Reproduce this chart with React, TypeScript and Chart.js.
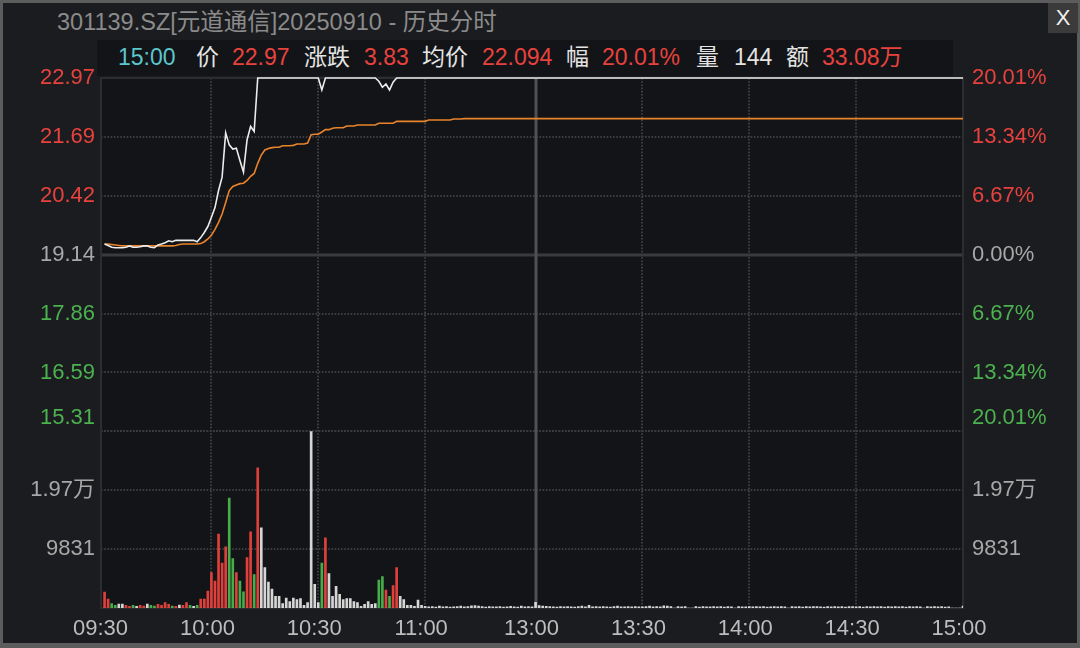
import React, { useEffect, useRef } from 'react';
import { Chart, registerables } from 'chart.js';

Chart.register(...registerables);

// ---------------- data ----------------
const TITLE = '301139.SZ[元道通信]20250910 - 历史分时';
const INFO_TEXTS = ['15:00', '价', '22.97', '涨跌', '3.83', '均价', '22.094', '幅', '20.01%', '量', '144', '额', '33.08万'];
const INFO_KINDS = ['time', 'label', 'up', 'label', 'up', 'label', 'up', 'label', 'up', 'label', 'label', 'label', 'up'];

const PREV_CLOSE = 19.14;
const PRICE_MIN = 15.31;
const PRICE_MAX = 22.97;
const PRICE_TICKS = [15.31, 16.5867, 17.8633, 19.14, 20.4167, 21.6933, 22.97];
const PRICE_TICK_LABELS = ['15.31', '16.59', '17.86', '19.14', '20.42', '21.69', '22.97'];
const PCT_TICK_LABELS = ['20.01%', '13.34%', '6.67%', '0.00%', '6.67%', '13.34%', '20.01%'];

const VOL_MAX = 29493;
const VOL_TICKS = [0, 9831, 19662, 29493];
const VOL_TICK_LABELS = ['', '9831', '1.97万', ''];

// minute slots: 0..120 = 09:30..11:30, 121..241 = 13:00..15:00
const TIME_TICK_INDEX = [0, 30, 60, 90, 121, 151, 181, 211, 241];
const TIME_TICK_LABELS = ['09:30', '10:00', '10:30', '11:00', '13:00', '13:30', '14:00', '14:30', '15:00'];
const BREAK_INDEX = 121;

const PRICE = [
  19.37, 19.34, 19.30, 19.29, 19.29, 19.29, 19.30, 19.33, 19.30, 19.30,
  19.31, 19.33, 19.33, 19.30, 19.29, 19.35, 19.37, 19.40, 19.44, 19.42,
  19.45, 19.45, 19.45, 19.45, 19.45, 19.45, 19.42, 19.51, 19.62, 19.75,
  19.95, 20.16, 20.53, 20.82, 21.78, 21.52, 21.43, 21.45, 21.18, 20.93,
  21.63, 21.92, 21.81, 22.97, 22.97, 22.97, 22.97, 22.97, 22.97, 22.97,
  22.97, 22.97, 22.97, 22.97, 22.97, 22.97, 22.97, 22.97, 22.97, 22.97,
  22.97, 22.71, 22.97, 22.97, 22.97, 22.97, 22.97, 22.97, 22.97, 22.97,
  22.97, 22.97, 22.97, 22.97, 22.97, 22.97, 22.97, 22.90, 22.77, 22.84,
  22.71, 22.88, 22.97, 22.97, 22.97, 22.97, 22.97, 22.97, 22.97, 22.97,
  22.97, 22.97, 22.97, 22.97, 22.97, 22.97, 22.97, 22.97, 22.97, 22.97,
  22.97, 22.97, 22.97, 22.97, 22.97, 22.97, 22.97, 22.97, 22.97, 22.97,
  22.97, 22.97, 22.97, 22.97, 22.97, 22.97, 22.97, 22.97, 22.97, 22.97,
  22.97, 22.97, 22.97, 22.97, 22.97, 22.97, 22.97, 22.97, 22.97, 22.97,
  22.97, 22.97, 22.97, 22.97, 22.97, 22.97, 22.97, 22.97, 22.97, 22.97,
  22.97, 22.97, 22.97, 22.97, 22.97, 22.97, 22.97, 22.97, 22.97, 22.97,
  22.97, 22.97, 22.97, 22.97, 22.97, 22.97, 22.97, 22.97, 22.97, 22.97,
  22.97, 22.97, 22.97, 22.97, 22.97, 22.97, 22.97, 22.97, 22.97, 22.97,
  22.97, 22.97, 22.97, 22.97, 22.97, 22.97, 22.97, 22.97, 22.97, 22.97,
  22.97, 22.97, 22.97, 22.97, 22.97, 22.97, 22.97, 22.97, 22.97, 22.97,
  22.97, 22.97, 22.97, 22.97, 22.97, 22.97, 22.97, 22.97, 22.97, 22.97,
  22.97, 22.97, 22.97, 22.97, 22.97, 22.97, 22.97, 22.97, 22.97, 22.97,
  22.97, 22.97, 22.97, 22.97, 22.97, 22.97, 22.97, 22.97, 22.97, 22.97,
  22.97, 22.97, 22.97, 22.97, 22.97, 22.97, 22.97, 22.97, 22.97, 22.97,
  22.97, 22.97, 22.97, 22.97, 22.97, 22.97, 22.97, 22.97, 22.97, 22.97,
  22.97, 22.97,
];

const AVG_PRICE = [
  19.37, 19.37, 19.36, 19.35, 19.34, 19.33, 19.33, 19.33, 19.33, 19.33,
  19.33, 19.33, 19.33, 19.33, 19.33, 19.33, 19.33, 19.33, 19.33, 19.33,
  19.34, 19.36, 19.37, 19.37, 19.37, 19.37, 19.37, 19.38, 19.42, 19.48,
  19.56, 19.69, 19.84, 20.02, 20.27, 20.53, 20.62, 20.65, 20.68, 20.69,
  20.75, 20.84, 20.90, 21.12, 21.30, 21.41, 21.44, 21.46, 21.47, 21.47,
  21.50, 21.50, 21.50, 21.51, 21.54, 21.54, 21.54, 21.56, 21.74, 21.75,
  21.75, 21.80, 21.85, 21.85, 21.88, 21.89, 21.89, 21.89, 21.93, 21.93,
  21.93, 21.95, 21.95, 21.95, 21.95, 21.95, 21.95, 21.99, 21.99, 21.99,
  21.99, 21.99, 22.03, 22.03, 22.03, 22.03, 22.03, 22.03, 22.03, 22.03,
  22.03, 22.06, 22.06, 22.06, 22.06, 22.06, 22.06, 22.06, 22.08, 22.08,
  22.08, 22.09, 22.09, 22.09, 22.09, 22.09, 22.09, 22.09, 22.09, 22.09,
  22.09, 22.09, 22.09, 22.09, 22.09, 22.09, 22.09, 22.09, 22.09, 22.09,
  22.09, 22.09, 22.09, 22.09, 22.09, 22.09, 22.09, 22.09, 22.09, 22.09,
  22.09, 22.09, 22.09, 22.09, 22.09, 22.09, 22.09, 22.09, 22.09, 22.09,
  22.09, 22.09, 22.09, 22.09, 22.09, 22.09, 22.09, 22.09, 22.09, 22.09,
  22.09, 22.09, 22.09, 22.09, 22.09, 22.09, 22.09, 22.09, 22.09, 22.09,
  22.09, 22.09, 22.09, 22.09, 22.09, 22.09, 22.09, 22.09, 22.09, 22.09,
  22.09, 22.09, 22.09, 22.09, 22.09, 22.09, 22.09, 22.09, 22.09, 22.09,
  22.09, 22.09, 22.09, 22.09, 22.09, 22.09, 22.09, 22.09, 22.09, 22.09,
  22.09, 22.09, 22.09, 22.09, 22.09, 22.09, 22.09, 22.09, 22.09, 22.09,
  22.09, 22.09, 22.09, 22.09, 22.09, 22.09, 22.09, 22.09, 22.09, 22.09,
  22.09, 22.09, 22.09, 22.09, 22.09, 22.09, 22.09, 22.09, 22.09, 22.09,
  22.09, 22.09, 22.09, 22.09, 22.09, 22.09, 22.09, 22.09, 22.09, 22.09,
  22.09, 22.09, 22.09, 22.09, 22.09, 22.09, 22.09, 22.09, 22.09, 22.09,
  22.09, 22.09,
];

const VOLUME = [
  2670, 1500, 720, 450, 670, 670, 450, 280, 450, 280,
  450, 330, 670, 450, 330, 610, 450, 890, 610, 330,
  280, 500, 450, 890, 450, 280, 450, 1500, 1500, 2840,
  5900, 4500, 12350, 7500, 10230, 18350, 8230, 5900, 4500, 2720,
  8400, 12730, 5560, 23400, 13400, 6730, 4340, 3170, 1950, 1950,
  720, 1670, 1060, 1670, 1390, 1560, 450, 890, 29493, 3950,
  890, 7500, 11730, 5730, 1950, 3610, 2280, 1390, 1560, 1560,
  1060, 890, 280, 610, 1060, 610, 720, 4670, 5230, 3000,
  1950, 3730, 6730, 1950, 1390, 450, 450, 280, 1330, 450,
  280, 190, 240, 170, 300, 180, 250, 160, 190, 240,
  310, 180, 230, 360, 420, 300, 240, 170, 250, 180,
  190, 240, 170, 180, 260, 180, 170, 300, 180, 240,
  180, 960, 420, 300, 290, 240, 180, 170, 240, 190,
  250, 180, 170, 240, 300, 180, 450, 190, 240, 180,
  240, 180, 170, 250, 300, 180, 190, 240, 180, 250,
  180, 180, 240, 300, 180, 240, 190, 360, 300, 240,
  0, 240, 180, 240, 0, 0, 240, 170, 250, 180,
  190, 240, 180, 250, 170, 240, 180, 0, 240, 180,
  180, 240, 190, 240, 180, 250, 170, 190, 240, 180,
  250, 180, 0, 240, 180, 250, 170, 240, 190, 240,
  240, 180, 170, 240, 190, 250, 180, 240, 170, 250,
  240, 180, 250, 170, 240, 190, 240, 180, 250, 170,
  240, 190, 250, 180, 240, 170, 250, 190, 240, 180,
  0, 240, 180, 250, 190, 240, 170, 180, 0, 0,
  0, 300,
];

// bar colour per minute: r = up, g = down, w = unchanged (rest of the day is flat at the limit)
const VOLUME_DIR =
  'rrggwwrrgw' + 'rrwggrrrrg' + 'rwrrgwgrrr' + 'rrrrrggrgg' + 'rrgrwwwwww' +
  'wwwwwwwwww' + 'wgrwwwwwww' + 'wwwwwwwggr' + 'grrwwwwwww' + 'w';

// ---------------- style ----------------
const FONT = '"Liberation Sans", Arial, "Noto Sans CJK SC", sans-serif';
const RED = '#e8423e';
const GREEN = '#4cb14f';
const GRAY = '#a8a8a8';
const WHITE = '#e4e4e4';
const CYAN = '#5cc6cd';
const BAR_COLORS = { r: '#e0403b', g: '#46ad4a', w: '#d6d6d6' };
const INFO_COLORS = { time: CYAN, label: WHITE, up: RED };
const INFO_LEFT = [118, 196, 232, 304, 364, 422, 482, 566, 602, 696, 734, 786, 822];

const priceColor = (i) => (i < 3 ? GREEN : i === 3 ? GRAY : RED);

const gridPlugin = {
  id: 'fenshiGrid',
  beforeDatasetsDraw(chart) {
    const { ctx, chartArea: a, scales } = chart;
    const xs = scales.x;
    const yp = scales.yPrice;
    const yv = scales.yVol;
    const hLine = (y) => {
      ctx.beginPath();
      ctx.moveTo(a.left, y);
      ctx.lineTo(a.right, y);
      ctx.stroke();
    };
    const vLine = (x) => {
      ctx.beginPath();
      ctx.moveTo(x, a.top);
      ctx.lineTo(x, a.bottom);
      ctx.stroke();
    };
    ctx.save();
    ctx.strokeStyle = '#3c3d41';
    ctx.lineWidth = 2;
    ctx.setLineDash([1.6, 1.6]);
    PRICE_TICKS.forEach((v) => {
      if (v !== PREV_CLOSE && v !== PRICE_MAX) hLine(Math.round(yp.getPixelForValue(v)));
    });
    VOL_TICKS.forEach((v) => {
      if (v > 0) hLine(Math.round(yv.getPixelForValue(v)));
    });
    TIME_TICK_INDEX.forEach((i) => {
      if (i > 0 && i < 241 && i !== BREAK_INDEX) vLine(Math.round(xs.getPixelForValue(i)));
    });
    ctx.setLineDash([]);
    ctx.strokeStyle = '#3a3b3f';
    ctx.lineWidth = 3;
    hLine(Math.round(yp.getPixelForValue(PREV_CLOSE)));
    ctx.strokeStyle = '#505155';
    vLine(Math.round(xs.getPixelForValue(BREAK_INDEX)));
    ctx.strokeStyle = '#2c2d31';
    ctx.lineWidth = 2;
    ctx.strokeRect(a.left, a.top, a.right - a.left, a.bottom - a.top);
    ctx.restore();
  },
};

const tickFont = { family: FONT, size: 22, lineHeight: 1.2 };

export default function App() {
  const canvasRef = useRef(null);

  useEffect(() => {
    const pricePts = PRICE.map((v, i) => ({ x: i, y: v }));
    const avgPts = AVG_PRICE.map((v, i) => ({ x: i, y: v }));
    const volPts = VOLUME.map((v, i) => ({ x: i, y: v }));
    const volColors = VOLUME.map((_, i) => BAR_COLORS[VOLUME_DIR[i] || 'w']);

    const chart = new Chart(canvasRef.current, {
      type: 'line',
      data: {
        datasets: [
          {
            type: 'line',
            data: pricePts,
            xAxisID: 'x',
            yAxisID: 'yPrice',
            borderColor: '#ececec',
            borderWidth: 1.6,
            pointRadius: 0,
            tension: 0,
            clip: 4,
          },
          {
            type: 'line',
            data: avgPts,
            xAxisID: 'x',
            yAxisID: 'yPrice',
            borderColor: '#e9842c',
            borderWidth: 1.6,
            pointRadius: 0,
            tension: 0,
            clip: 4,
          },
          {
            type: 'bar',
            data: volPts,
            xAxisID: 'x',
            yAxisID: 'yVol',
            backgroundColor: volColors,
            borderWidth: 0,
            barThickness: 2,
          },
        ],
      },
      options: {
        responsive: false,
        maintainAspectRatio: false,
        animation: false,
        events: [],
        layout: { padding: { top: 78, left: 0, right: 0, bottom: 0 } },
        plugins: { legend: { display: false }, tooltip: { enabled: false } },
        scales: {
          x: {
            type: 'linear',
            position: 'bottom',
            offset: false,
            min: -1,
            max: 241,
            grid: { display: false, drawTicks: false, offset: false },
            border: { display: false },
            afterBuildTicks: (s) => {
              s.ticks = TIME_TICK_INDEX.map((v) => ({ value: v }));
            },
            afterFit: (s) => {
              s.height = 40;
            },
            ticks: {
              autoSkip: false,
              maxRotation: 0,
              padding: 8,
              labelOffset: -4,
              color: '#bdbdbd',
              font: tickFont,
              callback: (v, i) => TIME_TICK_LABELS[i],
            },
          },
          yVol: {
            type: 'linear',
            position: 'left',
            stack: 'fs',
            stackWeight: 1,
            weight: 0,
            min: 0,
            max: VOL_MAX,
            grid: { display: false, drawTicks: false },
            border: { display: false },
            afterBuildTicks: (s) => {
              s.ticks = VOL_TICKS.map((v) => ({ value: v }));
            },
            afterFit: (s) => {
              s.width = 101;
            },
            ticks: {
              autoSkip: false,
              padding: 6,
              color: GRAY,
              font: tickFont,
              callback: (v, i) => VOL_TICK_LABELS[i],
            },
          },
          yPrice: {
            type: 'linear',
            position: 'left',
            stack: 'fs',
            stackWeight: 2,
            weight: 1,
            min: PRICE_MIN,
            max: PRICE_MAX,
            grid: { display: false, drawTicks: false },
            border: { display: false },
            afterBuildTicks: (s) => {
              s.ticks = PRICE_TICKS.map((v) => ({ value: v }));
            },
            afterFit: (s) => {
              s.width = 101;
            },
            ticks: {
              autoSkip: false,
              padding: 6,
              color: (c) => priceColor(c.index),
              font: tickFont,
              callback: (v, i) => (i === 0 ? [PRICE_TICK_LABELS[i], ''] : PRICE_TICK_LABELS[i]),
            },
          },
          yPct: {
            type: 'linear',
            position: 'right',
            stack: 'fs',
            stackWeight: 2,
            weight: 0,
            min: PRICE_MIN,
            max: PRICE_MAX,
            grid: { display: false, drawTicks: false },
            border: { display: false },
            afterBuildTicks: (s) => {
              s.ticks = PRICE_TICKS.map((v) => ({ value: v }));
            },
            afterFit: (s) => {
              s.width = 117;
            },
            ticks: {
              autoSkip: false,
              padding: 9,
              color: (c) => priceColor(c.index),
              font: tickFont,
              callback: (v, i) => (i === 0 ? [PCT_TICK_LABELS[i], ''] : PCT_TICK_LABELS[i]),
            },
          },
          yVolR: {
            type: 'linear',
            position: 'right',
            stack: 'fs',
            stackWeight: 1,
            weight: 1,
            min: 0,
            max: VOL_MAX,
            grid: { display: false, drawTicks: false },
            border: { display: false },
            afterBuildTicks: (s) => {
              s.ticks = VOL_TICKS.map((v) => ({ value: v }));
            },
            afterFit: (s) => {
              s.width = 117;
            },
            ticks: {
              autoSkip: false,
              padding: 9,
              color: GRAY,
              font: tickFont,
              callback: (v, i) => VOL_TICK_LABELS[i],
            },
          },
        },
      },
      plugins: [gridPlugin],
    });
    return () => chart.destroy();
  }, []);

  return (
    <div
      style={{
        position: 'fixed',
        left: 0,
        top: 0,
        width: 1080,
        height: 648,
        background: '#5c5c5c',
        overflow: 'hidden',
        fontFamily: FONT,
      }}
    >
      <div style={{ position: 'absolute', left: 3, top: 3, width: 1074, height: 640, background: '#1b1c1f' }} />
      <div style={{ position: 'absolute', left: 97, top: 40, width: 856, height: 36, background: '#131417' }} />
      <div style={{ position: 'absolute', left: 101, top: 78, width: 862, height: 530, background: '#131417' }} />
      <div
        style={{
          position: 'absolute',
          left: 57,
          top: 8,
          fontSize: 23.5,
          lineHeight: '28px',
          color: '#8b8b8b',
          whiteSpace: 'nowrap',
        }}
      >
        {TITLE}
      </div>
      <div
        style={{
          position: 'absolute',
          left: 1048,
          top: 3,
          width: 30,
          height: 30,
          background: '#3b3b3c',
          color: '#f0f0f0',
          fontSize: 22,
          lineHeight: '30px',
          textAlign: 'center',
        }}
      >
        X
      </div>
      {INFO_TEXTS.map((t, i) => (
        <span
          key={i}
          style={{
            position: 'absolute',
            left: INFO_LEFT[i],
            top: 44,
            fontSize: 23,
            lineHeight: '26px',
            color: INFO_COLORS[INFO_KINDS[i]],
            whiteSpace: 'nowrap',
          }}
        >
          {t}
        </span>
      ))}
      <canvas ref={canvasRef} width={1080} height={648} style={{ position: 'absolute', left: 0, top: 0 }} />
    </div>
  );
}
